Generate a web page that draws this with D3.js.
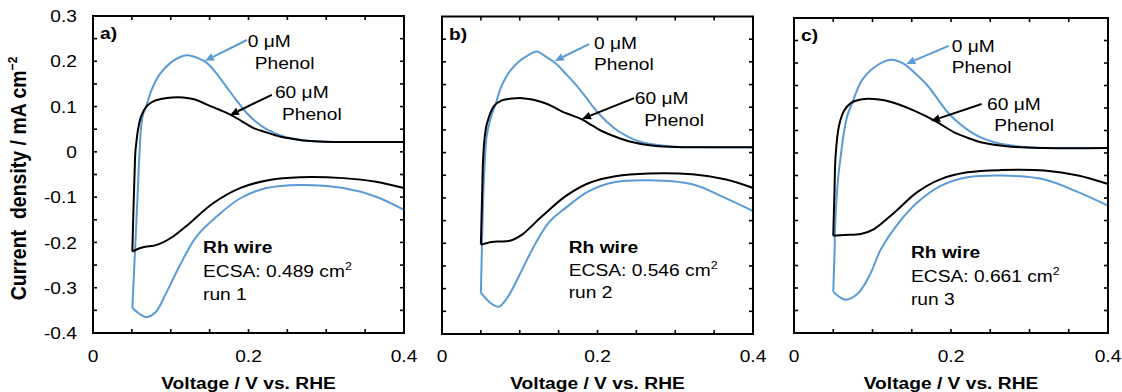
<!DOCTYPE html>
<html>
<head>
<meta charset="utf-8">
<script src="https://cdn.jsdelivr.net/npm/d3@7"></script>
<style>
  html, body { margin: 0; padding: 0; background: #fff; }
  svg { display: block; font-family: "Liberation Sans", Arial, sans-serif; }
  text { white-space: pre; }
</style>
</head>
<body>
<svg id="chart" width="1122" height="392"></svg>
<script>
// ---- Axis ticks ----
const xTickValues = [0, 0.2, 0.4];
const xTickLabels = ["0", "0.2", "0.4"];
const yTickValues = [0.3, 0.2, 0.1, 0, -0.1, -0.2, -0.3, -0.4];
const yTickLabels = ["0.3", "0.2", "0.1", "0", "-0.1", "-0.2", "-0.3", "-0.4"];

// ---- Cyclic voltammograms, [voltage V vs. RHE, current density mA cm^-2] ----
// Run 1
const run1_0uM_anodic = [[0.0506,-0.345],[0.054,-0.22],[0.057,-0.11],[0.059,-0.03],[0.0605,0.02],[0.062,0.057],[0.0645,0.083],[0.0686,0.101],[0.075,0.135],[0.0857,0.171],[0.10,0.197],[0.113,0.210],[0.124,0.213],[0.135,0.207],[0.146,0.197],[0.158,0.175],[0.171,0.145],[0.184,0.115],[0.197,0.087],[0.210,0.066],[0.223,0.050],[0.240,0.037],[0.257,0.029],[0.28,0.024],[0.30,0.022],[0.35,0.022],[0.40,0.022]];
const run1_0uM_cathodic = [[0.40,-0.128],[0.364,-0.099],[0.322,-0.080],[0.266,-0.073],[0.223,-0.080],[0.189,-0.103],[0.159,-0.143],[0.133,-0.187],[0.111,-0.253],[0.094,-0.312],[0.081,-0.353],[0.0686,-0.365],[0.060,-0.358],[0.0506,-0.345]];
const run1_60uM_anodic = [[0.0506,-0.220],[0.052,-0.13],[0.0536,-0.04],[0.0545,0.0],[0.0557,0.02],[0.058,0.05],[0.062,0.079],[0.0686,0.100],[0.075,0.109],[0.081,0.114],[0.095,0.119],[0.116,0.120],[0.13,0.116],[0.146,0.105],[0.161,0.094],[0.176,0.083],[0.191,0.068],[0.206,0.053],[0.223,0.043],[0.240,0.034],[0.26,0.028],[0.279,0.024],[0.31,0.022],[0.35,0.022],[0.40,0.022]];
const run1_60uM_cathodic = [[0.40,-0.080],[0.364,-0.066],[0.322,-0.058],[0.266,-0.056],[0.227,-0.062],[0.189,-0.080],[0.154,-0.114],[0.124,-0.158],[0.103,-0.187],[0.090,-0.200],[0.081,-0.206],[0.075,-0.208],[0.069,-0.209],[0.060,-0.213],[0.0506,-0.220]];
// Run 2
const run2_0uM_anodic = [[0.050,-0.309],[0.0515,-0.2],[0.053,-0.1],[0.055,-0.02],[0.057,0.03],[0.060,0.058],[0.0643,0.085],[0.0686,0.105],[0.075,0.14],[0.0815,0.164],[0.090,0.185],[0.099,0.201],[0.11,0.214],[0.122,0.223],[0.133,0.212],[0.146,0.197],[0.159,0.174],[0.172,0.150],[0.185,0.122],[0.197,0.095],[0.212,0.068],[0.227,0.047],[0.243,0.032],[0.257,0.023],[0.28,0.016],[0.30,0.013],[0.35,0.012],[0.40,0.012]];
const run2_0uM_cathodic = [[0.40,-0.129],[0.364,-0.100],[0.322,-0.070],[0.266,-0.061],[0.223,-0.065],[0.189,-0.085],[0.159,-0.122],[0.137,-0.155],[0.116,-0.214],[0.099,-0.272],[0.084,-0.320],[0.073,-0.340],[0.062,-0.331],[0.050,-0.309]];
const run2_60uM_anodic = [[0.050,-0.203],[0.0515,-0.1],[0.053,-0.01],[0.055,0.035],[0.058,0.065],[0.0665,0.102],[0.077,0.115],[0.090,0.119],[0.103,0.120],[0.116,0.117],[0.129,0.111],[0.142,0.102],[0.154,0.091],[0.167,0.082],[0.180,0.073],[0.193,0.060],[0.206,0.047],[0.223,0.035],[0.240,0.025],[0.26,0.018],[0.279,0.014],[0.31,0.012],[0.35,0.012],[0.40,0.012]];
const run2_60uM_cathodic = [[0.40,-0.078],[0.364,-0.059],[0.322,-0.048],[0.266,-0.046],[0.223,-0.052],[0.189,-0.067],[0.159,-0.096],[0.129,-0.140],[0.103,-0.181],[0.094,-0.190],[0.086,-0.195],[0.075,-0.196],[0.064,-0.197],[0.050,-0.203]];
// Run 3
const run3_0uM_anodic = [[0.050,-0.308],[0.0515,-0.23],[0.053,-0.139],[0.056,-0.06],[0.0596,-0.006],[0.0635,0.045],[0.068,0.083],[0.0745,0.113],[0.085,0.157],[0.093,0.176],[0.102,0.190],[0.113,0.202],[0.123,0.207],[0.131,0.205],[0.140,0.198],[0.155,0.176],[0.170,0.150],[0.183,0.120],[0.196,0.090],[0.211,0.065],[0.226,0.046],[0.240,0.033],[0.255,0.024],[0.275,0.017],[0.298,0.013],[0.35,0.011],[0.40,0.011]];
const run3_0uM_cathodic = [[0.40,-0.117],[0.362,-0.087],[0.319,-0.059],[0.264,-0.050],[0.221,-0.054],[0.187,-0.073],[0.157,-0.110],[0.132,-0.158],[0.111,-0.213],[0.096,-0.273],[0.081,-0.313],[0.066,-0.326],[0.058,-0.320],[0.050,-0.308]];
const run3_60uM_anodic = [[0.050,-0.184],[0.0515,-0.09],[0.053,-0.006],[0.0574,0.061],[0.0638,0.094],[0.0723,0.111],[0.085,0.119],[0.102,0.120],[0.115,0.117],[0.128,0.111],[0.153,0.094],[0.179,0.072],[0.204,0.046],[0.221,0.034],[0.238,0.024],[0.277,0.014],[0.32,0.011],[0.40,0.011]];
const run3_60uM_cathodic = [[0.40,-0.069],[0.362,-0.050],[0.319,-0.039],[0.264,-0.038],[0.221,-0.043],[0.187,-0.058],[0.157,-0.087],[0.128,-0.132],[0.102,-0.169],[0.085,-0.180],[0.064,-0.182],[0.050,-0.184]];

// ---- Panel texts ----
const panelLetters = ["a)", "b)", "c)"];
const ecsaValues = ["0.489", "0.546", "0.661"];
const runLabels = ["run 1", "run 2", "run 3"];

// ---- Annotation anchors in data units [V, j] ----
const arrow0uM = [[[0.198,0.247],[0.144,0.201]], [[0.189,0.239],[0.145,0.202]], [[0.197,0.238],[0.143,0.198]]];
const arrow60uM = [[[0.230,0.126],[0.176,0.081]], [[0.247,0.120],[0.180,0.074]], [[0.239,0.109],[0.1745,0.071]]];
const label0uM = [[[0.199,0.232],[0.208,0.183]], [[0.1955,0.228],[0.1955,0.182]], [[0.201,0.224],[0.201,0.178]]];
const label60uM = [[[0.234,0.119],[0.243,0.070]], [[0.248,0.107],[0.260,0.059]], [[0.246,0.096],[0.255,0.049]]];
const labelSample = [[0.1415,-0.223,-0.276,-0.327], [0.163,-0.221,-0.272,-0.321], [0.149,-0.233,-0.287,-0.338]];

// ---- Styling / layout ----
const BLUE = "#5b9bd5";
const FONT = 17;
const SX = 1.13;   // horizontal text stretch
const panelBoxes = [
  { left: 93,  top: 16,   right: 404,  bottom: 333 },
  { left: 442, top: 16.5, right: 753,  bottom: 334 },
  { left: 794, top: 18,   right: 1108, bottom: 333 }
];

const runs = [
  { blue: [run1_0uM_anodic, run1_0uM_cathodic], black: [run1_60uM_anodic, run1_60uM_cathodic] },
  { blue: [run2_0uM_anodic, run2_0uM_cathodic], black: [run2_60uM_anodic, run2_60uM_cathodic] },
  { blue: [run3_0uM_anodic, run3_0uM_cathodic], black: [run3_60uM_anodic, run3_60uM_cathodic] }
];

const svg = d3.select("#chart");

function addText(g, x, y, str, opts = {}) {
  const t = g.append("text")
    .attr("transform", `translate(${x},${y}) scale(${opts.sx ?? SX},1)`)
    .attr("font-size", opts.size ?? FONT)
    .attr("font-weight", opts.bold ? "bold" : "normal")
    .attr("text-anchor", opts.anchor ?? "start")
    .attr("fill", "#000");
  if (opts.dy) t.attr("dy", opts.dy);
  t.text(str);
  return t;
}

function drawArrow(g, p0, p1, color) {
  const dx = p1[0] - p0[0], dy = p1[1] - p0[1];
  const len = Math.hypot(dx, dy);
  const ux = dx / len, uy = dy / len;
  const head = 9, half = 4;
  const bx = p1[0] - ux * head, by = p1[1] - uy * head;
  g.append("line")
    .attr("x1", p0[0]).attr("y1", p0[1])
    .attr("x2", bx).attr("y2", by)
    .attr("stroke", color).attr("stroke-width", 2);
  g.append("path")
    .attr("d", `M${p1[0]},${p1[1]}L${bx - uy * half},${by + ux * half}L${bx + uy * half},${by - ux * half}Z`)
    .attr("fill", color);
}

const minorX = d3.range(0, 0.4001, 0.05);
const minorY = d3.range(-0.4, 0.3001, 0.05);
const TICK = 4;

runs.forEach((run, i) => {
  const box = panelBoxes[i];
  const x = d3.scaleLinear().domain([0, 0.4]).range([box.left, box.right]);
  const y = d3.scaleLinear().domain([-0.4, 0.3]).range([box.bottom, box.top]);
  const g = svg.append("g");

  const line = d3.line()
    .x(d => x(d[0]))
    .y(d => y(d[1]))
    .curve(d3.curveCatmullRom.alpha(0.5));

  // curves
  run.blue.forEach(seg => g.append("path").attr("d", line(seg))
    .attr("fill", "none").attr("stroke", BLUE).attr("stroke-width", 2).attr("stroke-linejoin", "round"));
  run.black.forEach(seg => g.append("path").attr("d", line(seg))
    .attr("fill", "none").attr("stroke", "#000").attr("stroke-width", 2).attr("stroke-linejoin", "round"));

  // inward ticks on all sides
  const tg = g.append("g").attr("stroke", "#000").attr("stroke-width", 1.6);
  minorX.slice(1, -1).forEach(v => {
    tg.append("line").attr("x1", x(v)).attr("x2", x(v)).attr("y1", box.bottom).attr("y2", box.bottom - TICK);
    tg.append("line").attr("x1", x(v)).attr("x2", x(v)).attr("y1", box.top).attr("y2", box.top + TICK);
  });
  minorY.slice(1, -1).forEach(v => {
    tg.append("line").attr("y1", y(v)).attr("y2", y(v)).attr("x1", box.left).attr("x2", box.left + TICK);
    tg.append("line").attr("y1", y(v)).attr("y2", y(v)).attr("x1", box.right).attr("x2", box.right - TICK);
  });

  // frame
  g.append("rect")
    .attr("x", box.left).attr("y", box.top)
    .attr("width", box.right - box.left).attr("height", box.bottom - box.top)
    .attr("fill", "none").attr("stroke", "#000").attr("stroke-width", 2);

  // x tick labels
  xTickValues.forEach((v, k) => addText(g, x(v), 362, xTickLabels[k], { anchor: "middle" }));

  // x-axis title
  addText(g, x(0.2), 389, "Voltage / V vs. RHE", { anchor: "middle", bold: true });

  // panel letter
  addText(g, box.left + 7, box.top + 23, panelLetters[i], { bold: true });

  // arrows and labels
  drawArrow(g, [x(arrow0uM[i][0][0]), y(arrow0uM[i][0][1])], [x(arrow0uM[i][1][0]), y(arrow0uM[i][1][1])], BLUE);
  drawArrow(g, [x(arrow60uM[i][0][0]), y(arrow60uM[i][0][1])], [x(arrow60uM[i][1][0]), y(arrow60uM[i][1][1])], "#000");
  addText(g, x(label0uM[i][0][0]), y(label0uM[i][0][1]), "0 μM");
  addText(g, x(label0uM[i][1][0]), y(label0uM[i][1][1]), "Phenol");
  addText(g, x(label60uM[i][0][0]), y(label60uM[i][0][1]), "60 μM");
  addText(g, x(label60uM[i][1][0]), y(label60uM[i][1][1]), "Phenol");

  // sample description
  const s = labelSample[i];
  addText(g, x(s[0]), y(s[1]), "Rh wire", { bold: true });
  const ecsa = addText(g, x(s[0]), y(s[2]), `ECSA: ${ecsaValues[i]} cm`);
  ecsa.append("tspan").attr("font-size", 11).attr("dy", -7).text("2");
  addText(g, x(s[0]), y(s[3]), runLabels[i]);

  // y tick labels only on the first panel
  if (i === 0) {
    yTickValues.forEach((v, k) => addText(g, 77, y(v), yTickLabels[k], { anchor: "end", dy: "0.36em" }));
    const yt = g.append("text")
      .attr("transform", `translate(26,${(box.top + box.bottom) / 2 + 4}) scale(${SX},1) rotate(-90)`)
      .attr("text-anchor", "middle")
      .attr("font-size", 19.5)
      .attr("font-weight", "bold")
      .attr("fill", "#000")
      .text("Current  density / mA cm");
    yt.append("tspan").attr("font-size", 12).attr("dy", -8).text("−2");
  }
});
</script>
</body>
</html>
